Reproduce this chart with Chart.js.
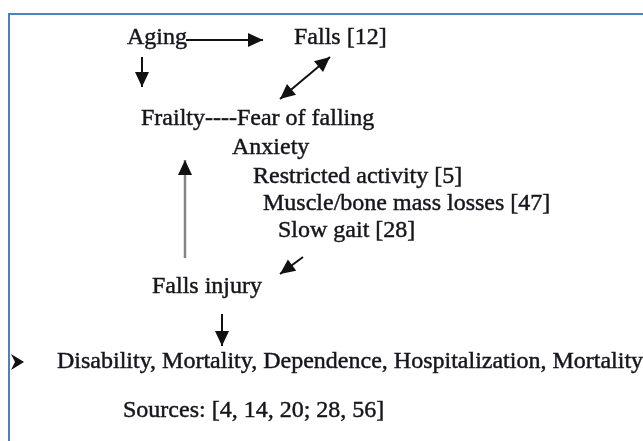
<!DOCTYPE html>
<html>
<head>
<meta charset="utf-8">
<script src="https://cdn.jsdelivr.net/npm/chart.js@4/dist/chart.umd.min.js"></script>
<style>
  html, body { margin: 0; padding: 0; background: #ffffff; }
  #wrap { width: 643px; height: 441px; position: relative; }
</style>
</head>
<body>
<div id="wrap"><canvas id="c" width="643" height="441"></canvas></div>
<script>
// Diagram nodes (text) and their anchor coordinates in the diagram's coordinate space
const nodeLabels = [
  "Aging",
  "Falls [12]",
  "Frailty----Fear of falling",
  "Anxiety",
  "Restricted activity [5]",
  "Muscle/bone mass losses [47]",
  "Slow gait [28]",
  "Falls injury",
  "Disability, Mortality, Dependence, Hospitalization, Mortality",
  "Sources: [4, 14, 20; 28, 56]"
];
const nodeX = [127, 294, 141, 232, 253, 263, 278, 152, 57, 123];
const nodeY = [44, 44, 125, 154, 183, 210, 237, 293, 368, 417];

// Arrows: start and end points (end = arrow head), and whether both ends have heads
const arrowFromX = [186, 142, 280, 185, 303, 222];
const arrowFromY = [40, 57, 99, 258, 257, 314];
const arrowToX   = [263, 142, 330, 185, 280, 222];
const arrowToY   = [40, 87, 57, 160, 274, 346];
const arrowBoth  = [false, false, true, false, false, false];
const arrowGray  = [false, false, false, true, false, false];

// Bullet marker
const bulletX = [11];
const bulletY = [362];

const TEXT_COLOR = '#15151c';
const FONT = '24px "Liberation Serif", "Times New Roman", serif';

const arrowDatasets = arrowFromX.map((fx, i) => ({
  type: 'line',
  data: [{x: fx, y: arrowFromY[i]}, {x: arrowToX[i], y: arrowToY[i]}],
  borderColor: arrowGray[i] ? '#858585' : '#111111',
  borderWidth: arrowGray[i] ? 2.5 : 2,
  pointRadius: 0,
  showLine: true,
  fill: false
}));

function drawHead(ctx, x0, y0, x1, y1, len, half) {
  const a = Math.atan2(y1 - y0, x1 - x0);
  ctx.save();
  ctx.translate(x1, y1);
  ctx.rotate(a);
  ctx.beginPath();
  ctx.moveTo(0, 0);
  ctx.lineTo(-len, -half);
  ctx.lineTo(-len, half);
  ctx.closePath();
  ctx.fill();
  ctx.restore();
}

const diagramPlugin = {
  id: 'diagram',
  beforeDatasetsDraw(chart) {
    const ctx = chart.ctx;
    const xs = chart.scales.x, ys = chart.scales.y;
    ctx.save();
    ctx.strokeStyle = '#4f81bd';
    ctx.lineWidth = 2;
    ctx.beginPath();
    ctx.moveTo(xs.getPixelForValue(9), ys.getPixelForValue(441));
    ctx.lineTo(xs.getPixelForValue(9), ys.getPixelForValue(14));
    ctx.lineTo(xs.getPixelForValue(643), ys.getPixelForValue(14));
    ctx.stroke();
    ctx.restore();
  },
  afterDatasetsDraw(chart) {
    const ctx = chart.ctx;
    const xs = chart.scales.x, ys = chart.scales.y;
    ctx.save();
    ctx.fillStyle = '#111111';
    arrowFromX.forEach((fx, i) => {
      const x0 = xs.getPixelForValue(fx), y0 = ys.getPixelForValue(arrowFromY[i]);
      const x1 = xs.getPixelForValue(arrowToX[i]), y1 = ys.getPixelForValue(arrowToY[i]);
      drawHead(ctx, x0, y0, x1, y1, 15, 7);
      if (arrowBoth[i]) drawHead(ctx, x1, y1, x0, y0, 15, 7);
    });
    ctx.fillStyle = TEXT_COLOR;
    ctx.strokeStyle = TEXT_COLOR;
    ctx.lineWidth = 0.45;
    ctx.font = FONT;
    ctx.textBaseline = 'alphabetic';
    ctx.textAlign = 'left';
    nodeLabels.forEach((t, i) => {
      const px = xs.getPixelForValue(nodeX[i]), py = ys.getPixelForValue(nodeY[i]);
      ctx.fillText(t, px, py);
      ctx.strokeText(t, px, py);
    });
    bulletX.forEach((bx, i) => {
      const px = xs.getPixelForValue(bx), py = ys.getPixelForValue(bulletY[i]);
      ctx.beginPath();
      ctx.moveTo(px, py - 8);
      ctx.lineTo(px + 13, py);
      ctx.lineTo(px, py + 8);
      ctx.lineTo(px + 4, py);
      ctx.closePath();
      ctx.fillStyle = '#111111';
      ctx.fill();
    });
    ctx.restore();
  }
};

new Chart(document.getElementById('c'), {
  type: 'scatter',
  data: { datasets: arrowDatasets },
  options: {
    responsive: false,
    animation: false,
    layout: { padding: 0 },
    plugins: { legend: { display: false }, tooltip: { enabled: false }, title: { display: false } },
    scales: {
      x: { type: 'linear', min: 0, max: 643, display: false },
      y: { type: 'linear', min: 0, max: 441, reverse: true, display: false }
    }
  },
  plugins: [diagramPlugin]
});
</script>
</body>
</html>
